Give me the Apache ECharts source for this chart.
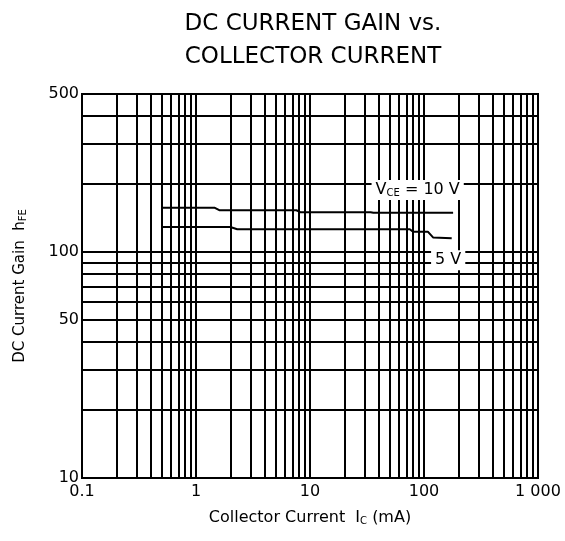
<!DOCTYPE html>
<html>
<head>
<meta charset="utf-8">
<title>DC current gain vs collector current</title>
<script type="text/javascript" src="https://cdn.jsdelivr.net/npm/echarts@6.0.0/dist/echarts.min.js"></script>
<style>
  body { margin: 0; background: #fff; }
  #chart { width: 565px; height: 541px; }
</style>
</head>
<body>
<div id="chart"></div>
<script type="text/javascript">
// collector current Ic (mA) vs hFE
const vce10 = [[0.5, 157], [1.45, 157], [1.6, 153], [7.6, 153], [8.2, 150], [34, 150], [36, 149], [180, 149]];
const vce5 = [[0.5, 129], [2.0, 129], [2.3, 126], [75, 126], [80, 123], [108, 123], [120, 116], [175, 115]];

// grid lines drawn on the log paper
const xGrid = [0.2, 0.3, 0.4, 0.5, 0.6, 0.7, 0.8, 0.9, 1, 2, 3, 4, 5, 6, 7, 8, 9, 10,
  20, 30, 40, 50, 60, 70, 80, 90, 100, 200, 300, 400, 500, 600, 700, 800, 900];
const yGrid = [20, 30, 40, 50, 60, 70, 80, 90, 100, 200, 300, 400];
const yLabels = [10, 50, 100, 500];

const font = 'DejaVu Sans';

const gridLines = [];
xGrid.forEach(v => gridLines.push({ xAxis: v }));
yGrid.forEach(v => gridLines.push({ yAxis: v }));

const myChart = echarts.init(document.getElementById('chart'));
myChart.setOption({
  animation: false,
  title: {
    text: 'DC CURRENT GAIN vs.\nCOLLECTOR CURRENT',
    left: 308,
    top: 3,
    textAlign: 'center',
    textStyle: { fontFamily: font, fontSize: 23, fontWeight: 'normal', color: '#000', lineHeight: 33 }
  },
  grid: {
    left: 82, right: 27, top: 94, bottom: 63,
    show: true, borderColor: '#000', borderWidth: 2
  },
  xAxis: {
    type: 'log',
    logBase: 10,
    min: 0.1,
    max: 1000,
    name: 'Collector Current  I{sub|C} (mA)',
    nameLocation: 'middle',
    nameGap: 32,
    nameTextStyle: {
      fontFamily: font, fontSize: 16, color: '#000',
      rich: { sub: { fontFamily: font, fontSize: 10, color: '#000', verticalAlign: 'bottom' } }
    },
    axisLine: { lineStyle: { color: '#000', width: 2 } },
    axisTick: { show: false },
    splitLine: { show: false },
    axisLabel: {
      fontFamily: font, fontSize: 16, color: '#000', margin: 6,
      formatter: v => (v >= 1000 ? '1 000' : String(v))
    }
  },
  yAxis: {
    type: 'log',
    logBase: 10,
    min: 10,
    max: 500,
    name: 'DC Current Gain  h{sub|FE}',
    nameLocation: 'middle',
    nameGap: 54,
    nameTextStyle: {
      fontFamily: font, fontSize: 15, color: '#000',
      rich: { sub: { fontFamily: font, fontSize: 10, color: '#000', verticalAlign: 'bottom' } }
    },
    axisLine: { lineStyle: { color: '#000', width: 2 } },
    axisTick: { show: false },
    splitLine: { show: false },
    axisLabel: {
      fontFamily: font, fontSize: 16, color: '#000', margin: 3,
      customValues: yLabels
    }
  },
  series: [
    {
      name: 'VCE = 10 V',
      type: 'line',
      data: vce10,
      symbol: 'none',
      lineStyle: { color: '#000', width: 2 },
      markLine: {
        silent: true,
        symbol: 'none',
        label: { show: false },
        lineStyle: { color: '#000', width: 2, type: 'solid' },
        data: gridLines
      },
      markPoint: {
        symbol: 'rect',
        symbolSize: 0,
        silent: true,
        data: [{ coord: [88, 188], value: '10' }],
        label: {
          show: true,
          formatter: 'V{sub|CE} = 10 V',
          backgroundColor: '#fff',
          padding: [2, 4],
          fontFamily: font, fontSize: 16, color: '#000',
          rich: { sub: { fontFamily: font, fontSize: 10, color: '#000', verticalAlign: 'bottom' } }
        }
      },
      z: 3
    },
    {
      name: 'VCE = 5 V',
      type: 'line',
      data: vce5,
      symbol: 'none',
      lineStyle: { color: '#000', width: 2 },
      markPoint: {
        symbol: 'rect',
        symbolSize: 0,
        silent: true,
        data: [{ coord: [163, 92], value: '5' }],
        label: {
          show: true,
          formatter: '5 V',
          backgroundColor: '#fff',
          padding: [2, 4],
          fontFamily: font, fontSize: 16, color: '#000'
        }
      },
      z: 3
    }
  ]
});
</script>
</body>
</html>
